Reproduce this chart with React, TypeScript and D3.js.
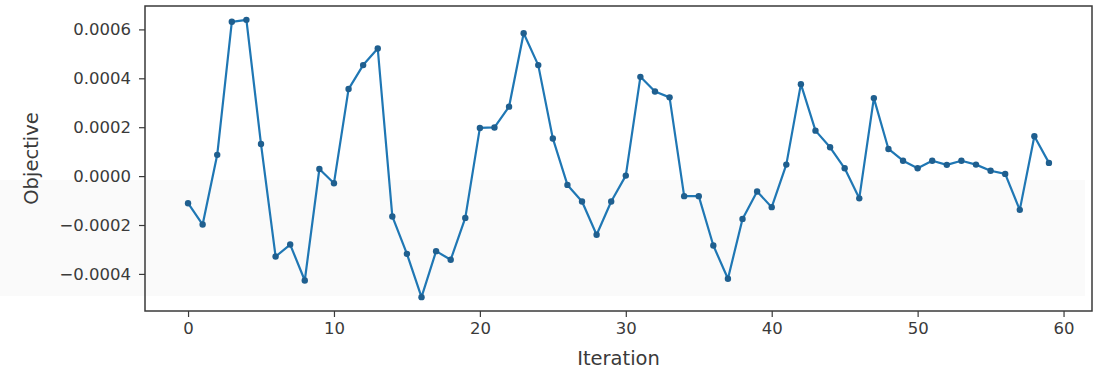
import React, { useEffect, useRef } from 'react';
import * as d3 from 'd3';

// objective value per iteration
const iterations = d3.range(60);
const objective = [
    -0.000111, -0.000198, 0.000087, 0.000631, 0.000639, 0.000131, -0.000329, -0.00028, -0.000427, 0.000029,
    -0.000029, 0.000356, 0.000454, 0.000522, -0.000165, -0.000318, -0.000495, -0.000307, -0.000342, -0.000171,
    0.000197, 0.000199, 0.000284, 0.000584, 0.000454, 0.000154, -0.000036, -0.000104, -0.00024, -0.000104,
    0.000002, 0.000406, 0.000346, 0.000322, -0.000082, -0.000082, -0.000284, -0.00042, -0.000175, -0.000063,
    -0.000127, 0.000047, 0.000376, 0.000186, 0.000118, 0.000032, -0.000091, 0.000319, 0.000111, 0.000063,
    0.000032, 0.000063, 0.000046, 0.000063, 0.000047, 0.000022, 0.000009, -0.000138, 0.000163, 0.000054,
];
const xTicks = [0, 10, 20, 30, 40, 50, 60];
const yTicks = [-0.0004, -0.0002, 0, 0.0002, 0.0004, 0.0006];

const W = 1100, H = 376;
const left = 145, right = 1092, top = 6, bottom = 311;
const font = '"DejaVu Sans", sans-serif';
const ink = '#3a3a3a';

export default function App() {
    const ref = useRef<SVGSVGElement>(null);

    useEffect(() => {
        const svg = d3.select(ref.current);
        svg.selectAll('*').remove();

        // matplotlib style 5% margins
        const xPad = (iterations.length - 1) * 0.05;
        const [yMin, yMax] = d3.extent(objective) as [number, number];
        const yPad = (yMax - yMin) * 0.05;

        const x = d3.scaleLinear()
            .domain([-xPad, iterations.length - 1 + xPad])
            .range([left, right]);
        const y = d3.scaleLinear()
            .domain([yMin - yPad, yMax + yPad])
            .range([bottom, top]);

        // faint shading seen in the scan
        svg.append('rect')
            .attr('x', 0).attr('y', 180)
            .attr('width', 1085).attr('height', 116)
            .attr('fill', '#fafafa');

        // x axis
        const xAxis = svg.append('g')
            .attr('transform', `translate(0,${bottom})`)
            .call(d3.axisBottom(x).tickValues(xTicks).tickFormat(d3.format('d')).tickSize(6).tickSizeOuter(0));
        xAxis.select('.domain').remove();
        xAxis.selectAll('line').attr('stroke', ink).attr('stroke-width', 1.2);
        xAxis.selectAll('text')
            .attr('font-family', font).attr('font-size', 16.5).attr('fill', ink).attr('dy', '0.85em');

        // y axis
        const yAxis = svg.append('g')
            .attr('transform', `translate(${left},0)`)
            .call(d3.axisLeft(y).tickValues(yTicks).tickFormat(d3.format('.4f')).tickSize(6).tickSizeOuter(0));
        yAxis.select('.domain').remove();
        yAxis.selectAll('line').attr('stroke', ink).attr('stroke-width', 1.2);
        yAxis.selectAll('text')
            .attr('font-family', font).attr('font-size', 16.5).attr('fill', ink).attr('x', -14);

        // frame
        svg.append('rect')
            .attr('x', left).attr('y', top)
            .attr('width', right - left).attr('height', bottom - top)
            .attr('fill', 'none')
            .attr('stroke', ink)
            .attr('stroke-width', 1.5);

        // line + dots
        const line = d3.line<number>()
            .x((d, i) => x(iterations[i]))
            .y(d => y(d));
        svg.append('path')
            .datum(objective)
            .attr('d', line)
            .attr('fill', 'none')
            .attr('stroke', '#1f77b4')
            .attr('stroke-width', 2.2)
            .attr('stroke-linejoin', 'round');
        svg.selectAll('.dot')
            .data(objective)
            .enter()
            .append('circle')
            .attr('class', 'dot')
            .attr('cx', (d, i) => x(iterations[i]))
            .attr('cy', d => y(d))
            .attr('r', 3.2)
            .attr('fill', '#1f5f8f');

        // axis titles
        svg.append('text')
            .attr('x', (left + right) / 2).attr('y', 365)
            .attr('text-anchor', 'middle')
            .attr('font-family', font).attr('font-size', 19.5).attr('fill', ink)
            .text('Iteration');
        svg.append('text')
            .attr('transform', `translate(38,${(top + bottom) / 2}) rotate(-90)`)
            .attr('text-anchor', 'middle')
            .attr('font-family', font).attr('font-size', 19.5).attr('fill', ink)
            .text('Objective');
    }, []);

    return (
        <svg ref={ref} width={W} height={H}
             style={{ position: 'absolute', left: 0, top: 0, background: '#fff' }} />
    );
}
